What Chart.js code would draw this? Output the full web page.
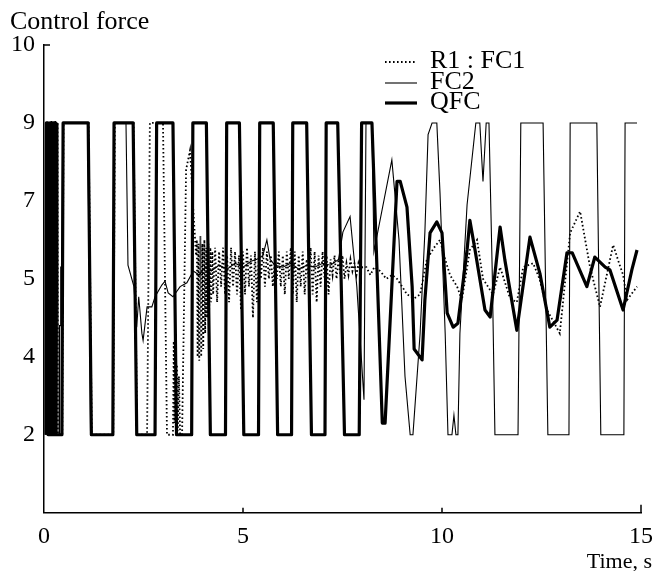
<!DOCTYPE html>
<html>
<head>
<meta charset="utf-8">
<script src="https://cdn.jsdelivr.net/npm/chart.js@4/dist/chart.umd.min.js"></script>
<style>
  html, body { margin: 0; padding: 0; background: #fff; }
  #grafico { display: block; }
</style>
</head>
<body>
<canvas id="grafico" width="657" height="571"></canvas>
<script>
// y axis is ordinal-looking: labels sit at equal steps
const yLevels = [0, 2, 4, 5, 7, 9, 10];
const yLabels = ['', '2', '4', '5', '7', '9', '10'];
const xMin = 0, xMax = 15, xStep = 5;

const seriesNames = ['R1 : FC1', 'FC2', 'QFC'];

// [time s, control force]
const fc1 = [
  [0.05,2],[0.06,9],[0.08,9],[0.09,2],[0.12,2],[0.13,9],[0.16,9],[0.17,2],
  [0.21,2],[0.22,9],[0.25,9],[0.26,2],[0.30,2],[0.31,9],[0.34,9],[0.35,2],
  [0.46,2],[0.49,9],[1.12,9],[1.20,2],[1.74,2],[1.78,9],[2.25,9],[2.34,2],
  [2.59,2],[2.66,9],[2.99,9],[3.09,2],[3.24,2],[3.26,4.2],[3.28,2.3],[3.30,4.0],
  [3.32,2.2],[3.34,3.8],[3.36,2.1],[3.39,3.5],[3.42,2],[3.47,2],[3.57,7.8],[3.67,8.3],
  [3.75,6.8],[3.82,5.6],[3.84,6.0],[3.86,4.0],[3.88,5.9],[3.90,3.9],[3.93,6.1],[3.95,4.0],
  [3.98,5.9],[4.00,4.1],[4.03,6.0],[4.05,4.3],[4.08,5.8],[4.10,4.5],[4.13,5.9],[4.15,4.6],
  [4.18,5.8],[4.20,4.7],[4.23,5.7],[4.25,4.8],[4.30,5.8],[4.35,4.7],[4.40,5.7],[4.45,4.9],
  [4.50,5.8],[4.55,4.8],[4.60,5.6],[4.65,4.7],[4.70,5.8],[4.75,4.9],[4.80,5.7],[4.85,4.8],
  [4.90,5.6],[4.95,4.6],[5.00,5.7],[5.05,4.8],[5.10,5.8],[5.15,4.9],[5.20,5.6],[5.25,4.5],
  [5.30,5.7],[5.35,4.7],[5.40,5.6],[5.45,5.0],[5.50,5.8],[5.55,4.9],[5.60,5.7],[5.65,5.0],
  [5.70,5.6],[5.75,4.9],[5.80,5.5],[5.85,5.0],[5.90,5.7],[5.95,4.9],[6.00,5.6],[6.05,4.8],
  [6.10,5.7],[6.15,5.0],[6.20,5.8],[6.25,4.8],[6.30,5.7],[6.35,4.7],[6.40,5.6],[6.45,4.9],
  [6.50,5.7],[6.55,4.8],[6.60,5.5],[6.65,5.0],[6.70,5.8],[6.75,4.8],[6.80,5.7],[6.85,4.7],
  [6.90,5.6],[6.95,4.9],[7.00,5.7],[7.05,5.0],[7.10,5.6],[7.15,4.8],[7.20,5.5],[7.25,5.1],
  [7.30,5.6],[7.35,5.0],[7.40,5.5],[7.45,5.1],[7.50,5.6],[7.55,5.0],[7.60,5.4],[7.65,5.1],
  [7.70,5.5],[7.75,5.2],[7.80,5.4],[7.85,5.1],[7.90,5.4],[7.95,5.2],[8.00,5.3],
  [8.1,5.3],[8.2,5.1],[8.3,5.3],[8.45,5.2],[8.6,5.0],[8.75,5.1],
  [8.87,5.0],[9.0,4.9],[9.12,4.8],[9.3,4.75],[9.45,4.8],[9.62,5.5],[9.8,5.8],[9.95,6.0],
  [10.05,5.6],[10.2,5.1],[10.38,4.9],[10.5,4.73],[10.7,5.74],[10.88,6.0],[11.03,5.0],[11.28,4.8],
  [11.46,5.3],[11.71,4.75],[11.88,4.7],[12.04,5.3],[12.29,5.4],[12.45,5.0],[12.64,4.6],[12.96,4.3],
  [13.1,5.0],[13.22,6.18],[13.47,6.73],[13.72,5.3],[13.97,4.64],[14.3,5.87],[14.45,5.4],[14.55,5.1],
  [14.65,4.73],[14.9,4.9]
];

const fc2 = [
  [0.05,2],[0.07,9],[0.09,9],[0.10,2],[0.17,2],[0.18,9],[0.21,9],[0.22,2],
  [0.30,2],[0.31,9],[0.33,9],[0.35,2],[0.38,2],[0.39,4.4],[0.41,4.4],[0.42,5.3],
  [0.45,5.3],[0.47,9],[1.10,9],[1.17,2],[1.74,2],[1.77,9],[2.06,9],[2.11,5.35],
  [2.26,4.9],[2.33,4.38],[2.38,4.77],[2.46,4.3],[2.49,4.21],[2.59,4.64],[2.71,4.64],[2.79,4.77],
  [2.96,4.92],[3.04,4.97],[3.12,4.82],[3.24,4.77],[3.42,4.9],[3.59,4.95],[3.75,5.2],[3.9,5.1],
  [4.05,5.3],[4.2,5.2],[4.4,5.35],[4.6,5.25],[4.8,5.4],[5.0,5.3],[5.2,5.45],[5.35,5.5],
  [5.5,5.6],[5.6,6.0],[5.68,5.5],[5.8,5.35],[6.0,5.3],[6.2,5.4],[6.4,5.25],[6.6,5.35],
  [6.8,5.3],[7.0,5.4],[7.2,5.35],[7.4,5.5],[7.51,6.2],[7.69,6.6],[7.86,4.9],[8.04,2.9],
  [8.09,9],[8.24,9],[8.29,5.7],[8.74,8.05],[8.92,6.0],[9.07,3.5],[9.20,2],[9.27,2],
  [9.45,4.3],[9.57,6.2],[9.65,8.7],[9.75,9],[9.87,9],[9.95,7.2],[10.08,4.3],[10.15,2],
  [10.25,2],[10.30,2.5],[10.35,2],[10.40,2],[10.45,4.3],[10.63,6.9],[10.85,9],[10.95,9],
  [11.03,7.5],[11.11,9],[11.18,9],[11.26,5.3],[11.33,2],[11.91,2],[11.98,9],[12.54,9],
  [12.66,2],[13.19,2],[13.22,9],[13.89,9],[13.99,2],[14.57,2],[14.60,9],[14.90,9]
];

const qfc = [
  [0.05,2],[0.06,9],[0.10,9],[0.11,2],[0.14,2],[0.15,9],[0.19,9],[0.20,2],
  [0.23,2],[0.24,9],[0.28,9],[0.29,2],[0.45,2],[0.48,9],[1.11,9],[1.19,2],
  [1.73,2],[1.76,9],[2.24,9],[2.33,2],[2.79,2],[2.83,9],[3.24,9],[3.33,2],
  [3.71,2],[3.74,9],[4.08,9],[4.18,2],[4.56,2],[4.59,9],[4.91,9],[5.02,2],
  [5.39,2],[5.42,9],[5.76,9],[5.87,2],[6.22,2],[6.25,9],[6.60,9],[6.72,2],
  [7.06,2],[7.09,9],[7.38,9],[7.55,2],[7.92,2],[7.98,9],[8.24,9],[8.50,2.3],
  [8.57,2.3],[8.87,7.5],[8.95,7.5],[9.12,6.84],[9.25,4.9],[9.30,4.1],[9.50,3.92],[9.57,4.73],
  [9.70,6.18],[9.87,6.46],[10.0,6.18],[10.13,4.56],[10.28,4.38],[10.40,4.43],[10.63,5.74],[10.70,6.5],
  [10.83,5.74],[11.08,4.6],[11.21,4.51],[11.46,6.33],[11.58,5.48],[11.88,4.34],[12.21,6.07],[12.46,5.14],
  [12.71,4.38],[12.89,4.47],[13.14,5.67],[13.27,5.67],[13.64,4.9],[13.84,5.56],[14.10,5.3],[14.22,5.23],
  [14.55,4.6],[14.77,5.23],[14.90,5.74]
];

// force value -> position on the evenly spaced label axis
function nivel(v) {
  for (let i = 1; i < yLevels.length; i++) {
    if (v <= yLevels[i]) {
      return i - 1 + (v - yLevels[i - 1]) / (yLevels[i] - yLevels[i - 1]);
    }
  }
  return yLevels.length - 1;
}

const toPoints = serie => serie.map(([t, f]) => ({ x: t, y: nivel(f) }));

const fonte = '"Liberation Serif", "Times New Roman", serif';

const legendaY = [62, 83, 103];

const extras = {
  id: 'extras',
  afterDraw(chart) {
    const { ctx, chartArea, scales } = chart;
    const x = scales.x, y = scales.y;
    ctx.save();
    ctx.strokeStyle = '#000';
    ctx.fillStyle = '#000';
    ctx.setLineDash([]);

    // small inward tick at the top of the y axis
    ctx.lineWidth = 1.5;
    const yTop = y.getPixelForValue(6);
    ctx.beginPath();
    ctx.moveTo(chartArea.left, yTop);
    ctx.lineTo(chartArea.left + 6, yTop);
    ctx.stroke();

    // inward ticks on the time axis
    [5, 10].forEach(v => {
      const px = x.getPixelForValue(v);
      ctx.beginPath();
      ctx.moveTo(px, chartArea.bottom);
      ctx.lineTo(px, chartArea.bottom - 5);
      ctx.stroke();
    });
    const pxEnd = x.getPixelForValue(15);
    ctx.beginPath();
    ctx.moveTo(pxEnd, chartArea.bottom);
    ctx.lineTo(pxEnd, chartArea.bottom - 8);
    ctx.stroke();

    // axis names
    ctx.textBaseline = 'middle';
    ctx.textAlign = 'left';
    ctx.font = '26px ' + fonte;
    ctx.fillText('Control force', 10, 22);
    ctx.textAlign = 'right';
    ctx.font = '22px ' + fonte;
    ctx.fillText('Time, s', 652, 562);

    // legend
    chart.data.datasets.forEach((ds, i) => {
      const ly = legendaY[i];
      ctx.lineWidth = ds.borderWidth;
      ctx.setLineDash(ds.borderDash || []);
      ctx.beginPath();
      ctx.moveTo(385, ly);
      ctx.lineTo(417, ly);
      ctx.stroke();
      ctx.setLineDash([]);
      ctx.textAlign = 'left';
      ctx.font = '26px ' + fonte;
      ctx.fillText(ds.label, 430, ly - 1);
    });
    ctx.restore();
  }
};

new Chart(document.getElementById('grafico'), {
  type: 'line',
  data: {
    datasets: [
      {
        label: seriesNames[0],
        data: toPoints(fc1),
        borderColor: '#000',
        borderWidth: 1.8,
        borderDash: [1.6, 2.4]
      },
      {
        label: seriesNames[1],
        data: toPoints(fc2),
        borderColor: '#000',
        borderWidth: 1.1
      },
      {
        label: seriesNames[2],
        data: toPoints(qfc),
        borderColor: '#000',
        borderWidth: 3.2,
        borderJoinStyle: 'round'
      }
    ]
  },
  options: {
    responsive: false,
    animation: false,
    events: [],
    elements: { point: { radius: 0 }, line: { tension: 0, fill: false } },
    layout: { padding: { left: 0, right: 16, top: 45, bottom: 0 } },
    plugins: { legend: { display: false }, tooltip: { enabled: false } },
    scales: {
      x: {
        type: 'linear',
        min: xMin,
        max: xMax,
        afterFit: s => { s.height = 58.3; s.paddingLeft = 0; s.paddingRight = 0; },
        grid: { display: false, drawTicks: false },
        border: { display: true, color: '#000', width: 1.5 },
        ticks: {
          stepSize: xStep,
          padding: 10,
          color: '#000',
          font: { family: fonte, size: 24 },
          maxRotation: 0,
          callback: v => String(v)
        }
      },
      y: {
        type: 'linear',
        min: 0,
        max: yLevels.length - 1,
        afterFit: s => { s.width = 44; s.paddingTop = 0; s.paddingBottom = 0; },
        grid: { display: false, drawTicks: false },
        border: { display: true, color: '#000', width: 1.5 },
        ticks: {
          stepSize: 1,
          padding: 9,
          color: '#000',
          font: { family: fonte, size: 24 },
          callback: v => yLabels[v]
        }
      }
    }
  },
  plugins: [extras]
});
</script>
</body>
</html>
